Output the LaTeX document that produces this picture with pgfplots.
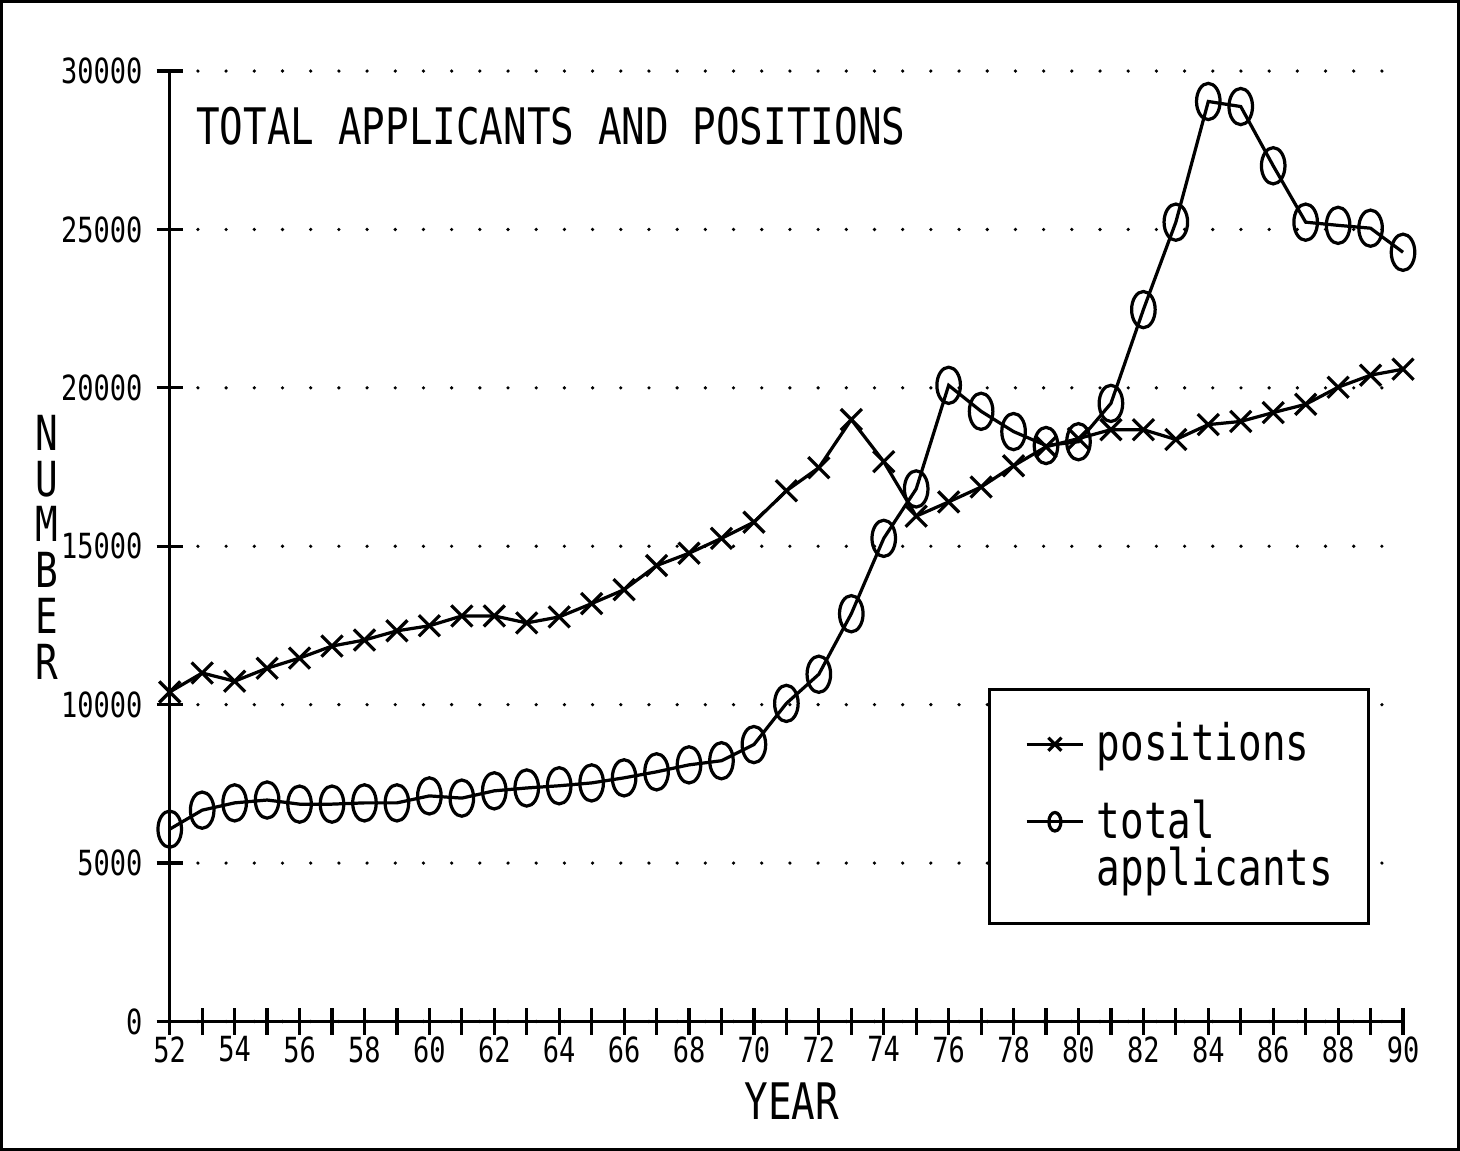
\documentclass[border=0pt]{standalone}
\usepackage{fontspec}
\setmainfont[FakeStretch=0.78]{DejaVu Sans Mono}
\usepackage{pgfplots}
\usepackage{pgfplotstable}
\pgfplotsset{compat=1.18}
\pgfdeclareplotmark{tallo}{%
  \pgfpathellipse{\pgfpointorigin}{\pgfqpoint{0.65\pgfplotmarksize}{0pt}}{\pgfqpoint{0pt}{\pgfplotmarksize}}%
  \pgfusepathqstroke}
\pgfplotstableread{
year pos app
52 10400 6070
53 11000 6670
54 10740 6900
55 11150 6990
56 11470 6860
57 11850 6860
58 12040 6900
59 12330 6900
60 12490 7120
61 12800 7050
62 12800 7280
63 12580 7370
64 12770 7440
65 13190 7530
66 13630 7690
67 14390 7880
68 14780 8100
69 15250 8230
70 15760 8740
71 16750 10040
72 17480 10960
73 19000 12870
74 17670 15250
75 15950 16810
76 16400 20080
77 16870 19260
78 17540 18620
79 18140 18180
80 18400 18300
81 18680 19510
82 18680 22470
83 18370 25230
84 18840 29040
85 18940 28880
86 19220 27010
87 19480 25230
88 20020 25130
89 20400 25040
90 20590 24280
}\datatable

\begin{document}
\begin{tikzpicture}
\begin{axis}[
  scale only axis, width=306.25pt, height=236pt,
  xmin=52, xmax=90, ymin=0, ymax=30000,
  axis lines=left, axis line style={-, line width=0.8pt},
  xtick={52,54,...,90}, minor xtick={53,55,...,89},
  ytick={0,5000,...,30000},
  tick align=center, major tick length=6.5pt, minor tick length=6.5pt,
  tick style={black, line width=0.8pt},
  ymajorgrids, grid style={black, line width=0.9pt, dash pattern=on 0pt off 7pt, line cap=round},
  /pgf/number format/assume math mode=true,
  /pgf/number format/1000 sep={},
  scaled y ticks=false,
  ticklabel style={font=\fontsize{8.6}{10}\selectfont},
  xticklabel style={yshift=3pt},
  xlabel={YEAR},
  xlabel style={font=\fontsize{12.5}{14}\selectfont, at={(axis description cs:0.5045,-0.0837)}, anchor=center},
  ylabel={N\\U\\M\\B\\E\\R},
  ylabel style={rotate=-90, align=center, font=\fontsize{12}{11.35}\selectfont, at={(axis description cs:-0.0996,0.499)}, anchor=center},
  clip=false,
  legend style={at={(rel axis cs:0.6637,0.3506)}, anchor=north west, draw=black, line width=0.8pt, fill=white,
    inner xsep=8.75pt, inner ysep=8pt, row sep=8.25pt, column sep=3pt,
    font=\fontsize{12.5}{11.75}\selectfont, nodes={inner sep=0pt}},
  legend cell align=left,
  legend image code/.code={\draw[mark repeat=2,mark phase=2,#1,mark size=2.3pt] plot coordinates {(0pt,0pt) (7pt,0pt) (14pt,0pt)};},
]
\addplot[black, line width=0.8pt, mark=x, mark size=3.7pt, mark options={line width=0.8pt}] table[x=year,y=pos]{\datatable};
\addlegendentry{positions}
\addplot[black, line width=0.8pt, mark=tallo, mark size=4.5pt, mark options={line width=0.8pt}, legend image post style={yshift=5.9pt}] table[x=year,y=app]{\datatable};
\addlegendentry[align=left]{total\\applicants\hspace{3pt}}
\node[anchor=base west, font=\fontsize{12.5}{14}\selectfont] at (rel axis cs:0.010,0.9227) {TOTAL APPLICANTS AND POSITIONS};
\end{axis}
\draw[line width=0.8pt] ([xshift=-41.75pt,yshift=-31.75pt]current axis.south west) rectangle ([xshift=13.75pt,yshift=17.25pt]current axis.north east);
\end{tikzpicture}
\end{document}
